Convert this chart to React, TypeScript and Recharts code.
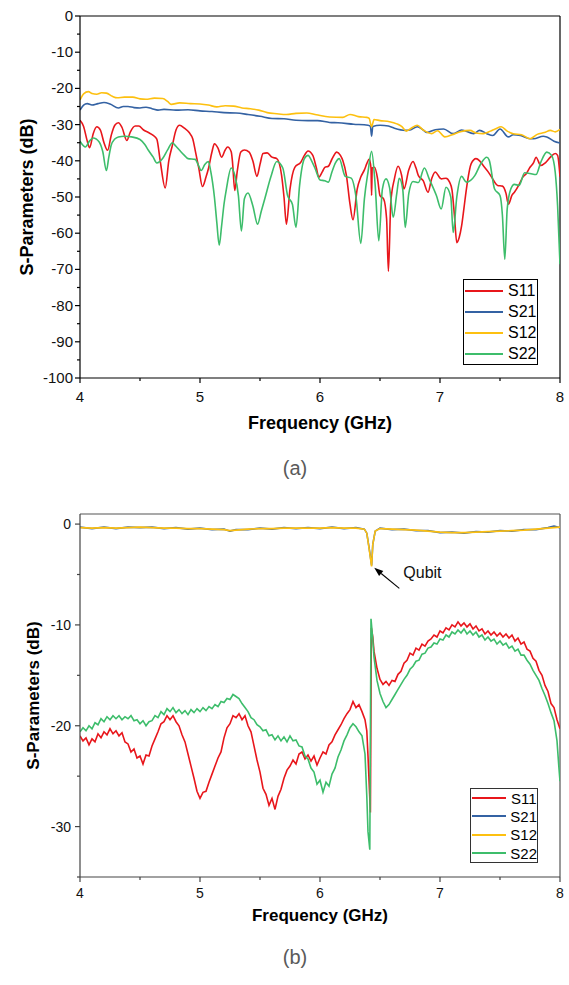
import React from 'react';
import { LineChart, Line, XAxis, YAxis, ReferenceLine, Legend } from 'recharts';

type Pt = [number, number];

const seriesNames = ['S11', 'S21', 'S12', 'S22'];
const seriesColors = ['#e8161b', '#3462a3', '#fdc010', '#3dbd6b'];

const xTicks = [4, 4.5, 5, 5.5, 6, 6.5, 7, 7.5, 8];
const yTicksA = [0, -5, -10, -15, -20, -25, -30, -35, -40, -45, -50, -55, -60, -65, -70, -75, -80, -85, -90, -95, -100];
const yTicksB = [0, -5, -10, -15, -20, -25, -30, -35];

// panel (a)
const s11A: Pt[] = [
  [4.0, -28.8], [4.03, -30.5], [4.06, -34.5], [4.08, -36.4], [4.11, -32.5], [4.14, -30.6], [4.17, -31.5], [4.2, -35],
  [4.23, -37.1], [4.26, -33], [4.29, -30.2], [4.32, -29.5], [4.35, -30.8], [4.39, -34.4], [4.42, -32], [4.46, -30.4],
  [4.49, -30.4], [4.53, -31.5], [4.57, -32.2], [4.61, -33], [4.64, -34], [4.67, -40.4], [4.71, -47.5], [4.74, -40],
  [4.77, -35.7], [4.8, -31.5], [4.83, -30.2], [4.87, -31], [4.91, -32.2], [4.94, -34], [4.96, -37.1], [4.99, -42],
  [5.02, -47.1], [5.05, -44.5], [5.07, -42.2], [5.1, -37.5], [5.12, -35.3], [5.15, -36.5], [5.18, -39], [5.21, -37],
  [5.23, -36.2], [5.26, -37.5], [5.27, -40], [5.29, -48.2], [5.31, -43], [5.34, -37.6], [5.37, -37], [5.41, -37.6],
  [5.44, -40], [5.475, -44.3], [5.5, -41], [5.525, -38], [5.56, -37.8], [5.6, -39], [5.64, -39.4], [5.68, -44],
  [5.7, -50], [5.72, -57.5], [5.75, -47.8], [5.79, -41.8], [5.84, -40.4], [5.87, -38.5], [5.9, -37.3], [5.94, -38.5],
  [5.97, -42], [5.99, -44.5], [6.02, -43], [6.04, -41.8], [6.07, -41.5], [6.1, -39.5], [6.14, -37.6], [6.17, -38.5],
  [6.19, -39.9], [6.22, -44], [6.25, -52], [6.275, -56.3], [6.31, -47.8], [6.34, -44.5], [6.37, -42.5], [6.39, -40.8],
  [6.41, -39.5], [6.425, -42], [6.43, -49.6], [6.435, -42], [6.455, -41.8], [6.48, -45], [6.5, -49.6], [6.53, -50.5],
  [6.555, -56], [6.57, -70.5], [6.59, -51.5], [6.62, -45], [6.65, -41.5], [6.68, -44], [6.7, -47.8], [6.74, -42.5],
  [6.775, -40.2], [6.8, -42], [6.82, -44.1], [6.86, -45.5], [6.9, -48.7], [6.93, -45], [6.96, -43.1], [7.01, -45],
  [7.05, -44.8], [7.08, -45.9], [7.1, -48], [7.12, -55], [7.14, -62.6], [7.16, -61.2], [7.18, -58], [7.2, -53],
  [7.22, -47.8], [7.26, -40.8], [7.3, -39.4], [7.33, -40], [7.36, -41.3], [7.4, -43], [7.43, -44.5], [7.48, -46.8],
  [7.52, -47], [7.55, -49], [7.57, -52], [7.6, -49.5], [7.62, -48.7], [7.66, -46.5], [7.69, -44.5], [7.72, -43.5],
  [7.75, -41.8], [7.78, -40.5], [7.8, -39], [7.84, -41.3], [7.88, -40.5], [7.92, -39], [7.96, -38], [7.98, -38.5],
  [8.0, -44.4],
];

const s21A: Pt[] = [
  [4.0, -26], [4.03, -24.6], [4.06, -24.2], [4.1, -24.6], [4.15, -24.2], [4.2, -23.9], [4.25, -24.3], [4.32, -25.4],
  [4.36, -25], [4.4, -25], [4.45, -25.3], [4.5, -25.4], [4.55, -25.2], [4.6, -25.6], [4.65, -26], [4.7, -25.8],
  [4.8, -26], [4.9, -25.9], [5.0, -26.2], [5.1, -26.4], [5.2, -26.7], [5.3, -26.8], [5.4, -27.2], [5.5, -27.7],
  [5.6, -28.3], [5.7, -28.4], [5.8, -28.8], [5.9, -28.9], [5.98, -28.9], [6.08, -29.4], [6.15, -29.5], [6.28, -29.9],
  [6.4, -30.2], [6.42, -30.5], [6.43, -33.2], [6.44, -30.5], [6.5, -30.2], [6.57, -30.4], [6.62, -31], [6.71, -31.6],
  [6.75, -31.5], [6.81, -30.6], [6.86, -31.5], [6.89, -32.2], [6.96, -31.4], [7.03, -31.2], [7.11, -32.5], [7.18, -31.5],
  [7.28, -32.5], [7.33, -31.6], [7.39, -32.5], [7.44, -33], [7.5, -31.2], [7.57, -33.4], [7.61, -32.8], [7.67, -33],
  [7.75, -33.9], [7.78, -33.9], [7.86, -33.2], [7.89, -33.4], [7.95, -34.6], [8.0, -35.1],
];

const s12A: Pt[] = [
  [4.0, -23.2], [4.03, -21.5], [4.07, -20.9], [4.1, -21.4], [4.14, -21.6], [4.18, -21.2], [4.22, -21.3], [4.27, -22.2],
  [4.31, -22.6], [4.37, -22.4], [4.44, -22.4], [4.5, -22.9], [4.55, -23], [4.62, -22.7], [4.69, -22.8], [4.73, -23.6],
  [4.76, -24.4], [4.83, -24], [4.92, -24.2], [5.0, -24.3], [5.07, -24.6], [5.14, -25.1], [5.21, -24.8], [5.28, -24.9],
  [5.35, -25.4], [5.42, -25.6], [5.49, -26], [5.56, -26.7], [5.64, -27], [5.72, -27.2], [5.8, -26.9], [5.89, -26.8],
  [5.97, -27.3], [6.08, -27.9], [6.19, -28], [6.25, -27.2], [6.32, -27.8], [6.39, -28], [6.41, -28.3], [6.43, -30.6],
  [6.45, -28.6], [6.5, -28.9], [6.58, -29.2], [6.64, -29.8], [6.68, -30.5], [6.72, -31.8], [6.76, -31], [6.81, -30.2],
  [6.86, -31.5], [6.93, -32.5], [6.98, -31.7], [7.04, -33.4], [7.11, -32.7], [7.17, -32], [7.25, -31.6], [7.3, -32.3],
  [7.36, -32.5], [7.42, -31.8], [7.46, -31.2], [7.51, -30.6], [7.56, -31.8], [7.61, -32.5], [7.68, -32.8], [7.75, -33.9],
  [7.81, -32.7], [7.87, -32.2], [7.92, -31.6], [7.96, -32], [8.0, -31.3],
];

const s22A: Pt[] = [
  [4.0, -34.6], [4.045, -36.2], [4.08, -34.5], [4.11, -33.7], [4.16, -34.8], [4.19, -37.5], [4.22, -42.7], [4.24, -39],
  [4.26, -35.7], [4.29, -34], [4.32, -33.4], [4.37, -33.2], [4.43, -33.4], [4.5, -34.1], [4.54, -35.5], [4.57, -37.1],
  [4.61, -39], [4.64, -40.6], [4.69, -39.3], [4.73, -37], [4.77, -35], [4.8, -36], [4.83, -37.1], [4.87, -38.5],
  [4.9, -39.4], [4.96, -39.6], [4.99, -41.5], [5.01, -42.7], [5.04, -41], [5.07, -40.2], [5.09, -43], [5.12, -50],
  [5.14, -57], [5.16, -63.3], [5.18, -58], [5.2, -52], [5.22, -47.8], [5.26, -42], [5.29, -44], [5.32, -49.6],
  [5.345, -59.4], [5.37, -50.5], [5.4, -48.9], [5.44, -52.4], [5.48, -57.5], [5.51, -54], [5.54, -50.5], [5.59, -44.5],
  [5.64, -40.2], [5.69, -42], [5.73, -49.6], [5.77, -52], [5.8, -58.4], [5.83, -46.8], [5.87, -39.4], [5.9, -38.5],
  [5.93, -40], [5.96, -42.2], [6.0, -45.3], [6.04, -45.5], [6.07, -45.9], [6.1, -43], [6.13, -40.5], [6.16, -39.4],
  [6.21, -44.3], [6.26, -44.8], [6.3, -50], [6.34, -62.8], [6.37, -50.5], [6.4, -43.1], [6.43, -37.4], [6.46, -46.8],
  [6.49, -62.1], [6.52, -47.8], [6.55, -45], [6.58, -47.5], [6.61, -55.6], [6.64, -49], [6.66, -44.8], [6.69, -48],
  [6.71, -58.4], [6.74, -49], [6.775, -45.7], [6.82, -46], [6.87, -42], [6.91, -45], [6.97, -49.6], [7.01, -53.3],
  [7.05, -47.3], [7.09, -50], [7.11, -59.8], [7.14, -50], [7.18, -44.3], [7.22, -45.9], [7.29, -44.1], [7.34, -40.8],
  [7.39, -39], [7.41, -39.8], [7.455, -47.8], [7.5, -49.6], [7.52, -55], [7.54, -67.2], [7.56, -53.3], [7.59, -47.8],
  [7.62, -46.5], [7.66, -46.8], [7.705, -43.3], [7.75, -43.5], [7.8, -43.8], [7.84, -40.4], [7.89, -37.6], [7.93, -38.5],
  [7.96, -43.1], [7.98, -52.4], [8.0, -68.6],
];

// panel (b)
const s11B: Pt[] = [
  [4.0, -21.0], [4.025, -21.5], [4.05, -21.2], [4.075, -21.9], [4.1, -21.3], [4.125, -21.6], [4.15, -20.8], [4.175, -21.2],
  [4.2, -20.6], [4.225, -20.9], [4.25, -20.3], [4.275, -20.8], [4.3, -20.5], [4.325, -21.0], [4.35, -20.7], [4.375, -21.6],
  [4.4, -21.8], [4.425, -22.6], [4.45, -22.3], [4.475, -23.2], [4.5, -23.0], [4.525, -23.8], [4.55, -22.9], [4.575, -23.0],
  [4.6, -22.0], [4.625, -21.3], [4.65, -20.6], [4.675, -19.8], [4.7, -19.6], [4.725, -19.0], [4.75, -19.4], [4.775, -19.0],
  [4.8, -19.6], [4.825, -20.0], [4.85, -20.9], [4.875, -21.6], [4.9, -22.8], [4.925, -24.0], [4.95, -25.2], [4.975, -26.5],
  [5.0, -27.2], [5.025, -26.6], [5.05, -26.5], [5.075, -25.6], [5.1, -24.8], [5.125, -24.0], [5.15, -23.2], [5.175, -22.6],
  [5.2, -21.2], [5.225, -20.2], [5.25, -19.8], [5.275, -19.0], [5.3, -19.2], [5.325, -18.8], [5.35, -19.4], [5.375, -19.0],
  [5.4, -20.0], [5.425, -20.6], [5.45, -22.0], [5.475, -23.4], [5.5, -24.6], [5.525, -26.2], [5.55, -26.8], [5.575, -27.9],
  [5.6, -27.2], [5.625, -28.3], [5.65, -27.0], [5.675, -26.3], [5.7, -25.2], [5.725, -24.4], [5.75, -24.0], [5.775, -23.4],
  [5.8, -23.8], [5.825, -22.8], [5.85, -22.6], [5.875, -23.3], [5.9, -22.9], [5.925, -23.5], [5.95, -23.0], [5.975, -23.9],
  [6.0, -23.2], [6.025, -22.6], [6.05, -22.8], [6.075, -21.9], [6.1, -21.6], [6.125, -20.9], [6.15, -20.4], [6.175, -19.9],
  [6.2, -19.3], [6.225, -18.8], [6.25, -18.4], [6.275, -17.6], [6.3, -18.2], [6.325, -17.9], [6.35, -18.6], [6.375, -19.4],
  [6.39, -20.5], [6.4, -23.0], [6.41, -25.8], [6.42, -28.6], [6.428, -10.3], [6.44, -11.2], [6.45, -12.6], [6.475, -14.3],
  [6.5, -15.4], [6.525, -15.9], [6.55, -15.6], [6.575, -16.0], [6.6, -15.5], [6.625, -15.6], [6.65, -14.9], [6.675, -14.6],
  [6.7, -13.8], [6.725, -13.5], [6.75, -12.8], [6.775, -13.0], [6.8, -12.3], [6.825, -12.5], [6.85, -11.9], [6.875, -12.1],
  [6.9, -11.6], [6.925, -11.4], [6.95, -11.0], [6.975, -11.2], [7.0, -10.6], [7.025, -10.8], [7.05, -10.3], [7.075, -10.5],
  [7.1, -10.0], [7.125, -10.2], [7.15, -9.7], [7.175, -10.1], [7.2, -9.8], [7.225, -10.2], [7.25, -9.9], [7.275, -10.4],
  [7.3, -10.1], [7.325, -10.6], [7.35, -10.4], [7.375, -10.9], [7.4, -10.6], [7.425, -11.0], [7.45, -10.7], [7.475, -11.1],
  [7.5, -10.8], [7.525, -11.2], [7.55, -10.9], [7.575, -11.3], [7.6, -11.0], [7.625, -11.6], [7.65, -11.3], [7.675, -11.9],
  [7.7, -11.7], [7.725, -12.4], [7.75, -12.6], [7.775, -13.3], [7.8, -13.6], [7.825, -14.5], [7.85, -15.0], [7.875, -16.0],
  [7.9, -16.6], [7.925, -17.8], [7.95, -18.2], [7.975, -19.4], [8.0, -20.3],
];

const s21B: Pt[] = [
  [4.0, -0.3], [4.1, -0.45], [4.2, -0.3], [4.3, -0.45], [4.4, -0.3], [4.5, -0.35], [4.6, -0.3], [4.7, -0.45],
  [4.8, -0.35], [4.9, -0.5], [5.0, -0.4], [5.1, -0.55], [5.2, -0.5], [5.25, -0.7], [5.3, -0.55], [5.4, -0.55],
  [5.5, -0.4], [5.6, -0.5], [5.7, -0.35], [5.8, -0.45], [5.9, -0.35], [6.0, -0.45], [6.1, -0.3], [6.2, -0.45],
  [6.3, -0.35], [6.37, -0.5], [6.39, -0.9], [6.41, -2.4], [6.43, -4.1], [6.44, -2.0], [6.46, -0.7], [6.5, -0.4],
  [6.6, -0.55], [6.7, -0.5], [6.8, -0.65], [6.9, -0.65], [7.0, -0.85], [7.1, -0.8], [7.2, -0.9], [7.3, -0.75],
  [7.4, -0.8], [7.5, -0.65], [7.6, -0.7], [7.7, -0.55], [7.8, -0.55], [7.9, -0.35], [7.95, -0.2], [8.0, -0.35],
];

const s12B: Pt[] = [
  [4.0, -0.35], [4.1, -0.4], [4.2, -0.35], [4.3, -0.4], [4.4, -0.35], [4.5, -0.3], [4.6, -0.35], [4.7, -0.4],
  [4.8, -0.4], [4.9, -0.45], [5.0, -0.45], [5.1, -0.5], [5.2, -0.55], [5.25, -0.65], [5.3, -0.6], [5.4, -0.5],
  [5.5, -0.45], [5.6, -0.45], [5.7, -0.4], [5.8, -0.4], [5.9, -0.4], [6.0, -0.4], [6.1, -0.35], [6.2, -0.4],
  [6.3, -0.4], [6.37, -0.5], [6.39, -0.9], [6.41, -2.5], [6.43, -4.2], [6.44, -2.0], [6.46, -0.7], [6.5, -0.45],
  [6.6, -0.5], [6.7, -0.55], [6.8, -0.6], [6.9, -0.7], [7.0, -0.8], [7.1, -0.85], [7.2, -0.85], [7.3, -0.8],
  [7.4, -0.75], [7.5, -0.7], [7.6, -0.65], [7.7, -0.6], [7.8, -0.5], [7.9, -0.4], [8.0, -0.3],
];

const s22B: Pt[] = [
  [4.0, -20.6], [4.025, -20.2], [4.05, -20.5], [4.075, -20.0], [4.1, -20.3], [4.125, -19.7], [4.15, -19.9], [4.175, -19.3],
  [4.2, -19.6], [4.225, -19.1], [4.25, -19.4], [4.275, -19.0], [4.3, -19.3], [4.325, -19.0], [4.35, -19.4], [4.375, -19.1],
  [4.4, -19.3], [4.425, -19.0], [4.45, -19.5], [4.475, -19.4], [4.5, -19.8], [4.525, -19.5], [4.55, -20.0], [4.575, -19.6],
  [4.6, -19.5], [4.625, -19.0], [4.65, -19.2], [4.675, -18.6], [4.7, -18.9], [4.725, -18.3], [4.75, -18.6], [4.775, -18.2],
  [4.8, -18.7], [4.825, -18.4], [4.85, -18.8], [4.875, -18.5], [4.9, -18.9], [4.925, -18.4], [4.95, -18.7], [4.975, -18.3],
  [5.0, -18.6], [5.025, -18.2], [5.05, -18.5], [5.075, -18.1], [5.1, -18.3], [5.125, -17.9], [5.15, -18.1], [5.175, -17.6],
  [5.2, -17.7], [5.225, -17.3], [5.25, -17.4], [5.275, -16.9], [5.3, -17.1], [5.325, -17.3], [5.35, -17.8], [5.375, -18.2],
  [5.4, -18.6], [5.425, -19.2], [5.45, -19.4], [5.475, -19.9], [5.5, -20.1], [5.525, -20.5], [5.55, -20.4], [5.575, -21.0],
  [5.6, -20.9], [5.625, -21.4], [5.65, -21.0], [5.675, -21.5], [5.7, -21.1], [5.725, -21.6], [5.75, -21.0], [5.775, -21.5],
  [5.8, -21.4], [5.825, -22.0], [5.85, -22.1], [5.875, -23.0], [5.9, -23.3], [5.925, -24.2], [5.95, -24.6], [5.975, -25.8],
  [6.0, -25.4], [6.025, -26.6], [6.05, -25.6], [6.075, -26.0], [6.1, -24.8], [6.125, -24.2], [6.15, -23.1], [6.175, -22.4],
  [6.2, -21.5], [6.225, -20.9], [6.25, -20.2], [6.275, -19.8], [6.3, -20.1], [6.325, -20.6], [6.35, -21.0], [6.375, -22.8],
  [6.39, -27.0], [6.4, -30.5], [6.415, -32.3], [6.425, -9.4], [6.44, -11.5], [6.45, -13.2], [6.475, -15.5], [6.5, -16.8],
  [6.525, -17.6], [6.55, -18.2], [6.575, -17.9], [6.6, -17.4], [6.625, -16.9], [6.65, -16.4], [6.675, -15.9], [6.7, -15.4],
  [6.725, -15.0], [6.75, -14.4], [6.775, -14.1], [6.8, -13.6], [6.825, -13.5], [6.85, -12.9], [6.875, -12.8], [6.9, -12.3],
  [6.925, -12.2], [6.95, -11.8], [6.975, -11.9], [7.0, -11.4], [7.025, -11.5], [7.05, -11.0], [7.075, -11.2], [7.1, -10.7],
  [7.125, -10.9], [7.15, -10.5], [7.175, -10.8], [7.2, -10.4], [7.225, -10.9], [7.25, -10.6], [7.275, -11.0], [7.3, -10.7],
  [7.325, -11.2], [7.35, -11.0], [7.375, -11.5], [7.4, -11.2], [7.425, -11.6], [7.45, -11.4], [7.475, -11.9], [7.5, -11.6],
  [7.525, -12.0], [7.55, -11.8], [7.575, -12.3], [7.6, -12.1], [7.625, -12.6], [7.65, -12.4], [7.675, -13.0], [7.7, -13.0],
  [7.725, -13.5], [7.75, -13.9], [7.775, -14.5], [7.8, -15.0], [7.825, -15.5], [7.85, -16.3], [7.875, -17.0], [7.9, -17.8],
  [7.925, -18.7], [7.95, -19.5], [7.975, -21.5], [7.99, -24.0], [8.0, -25.5],
];

// arrow tail -> head, in data units of panel (b)
const qubitArrow: Pt[] = [[6.661, -6.37], [6.452, -4.33]];

const FONT = '"Liberation Sans", Arial, Helvetica, sans-serif';

const toRows = (pts: Pt[]) => pts.map(([f, v]) => ({ f, v }));

const makeXTick = (color: string, size: number, gap: number) => (props: any) => {
  const { x, y, payload } = props;
  const v = payload.value;
  const major = Number.isInteger(v);
  return (
    <g>
      <line x1={x} x2={x} y1={y} y2={y + (major ? 5 : 3)} stroke={color} strokeWidth={1.2} />
      {major && (
        <text x={x} y={y + gap} textAnchor="middle" fontSize={size} fontFamily={FONT} fill="#111">
          {v}
        </text>
      )}
    </g>
  );
};

const makeYTick = (color: string, size: number, gap: number, dy: number) => (props: any) => {
  const { x, y, payload } = props;
  const v = payload.value;
  const major = v % 10 === 0;
  return (
    <g>
      <line x1={x - (major ? 5 : 3)} x2={x} y1={y} y2={y} stroke={color} strokeWidth={1.2} />
      {major && (
        <text x={x - gap} y={y + dy} textAnchor="end" fontSize={size} fontFamily={FONT} fill="#111">
          {v}
        </text>
      )}
    </g>
  );
};

const makeXTitle = (size: number, dy: number) => (props: any) => {
  const vb = props.viewBox;
  return (
    <text x={vb.x + vb.width / 2} y={vb.y + dy} textAnchor="middle" fontSize={size} fontWeight="bold" fontFamily={FONT} fill="#000">
      Frequency (GHz)
    </text>
  );
};

const makeYTitle = (size: number, cx: number) => (props: any) => {
  const vb = props.viewBox;
  const cy = vb.y + vb.height / 2;
  return (
    <text x={cx} y={cy} transform={`rotate(-90, ${cx}, ${cy})`} textAnchor="middle" dominantBaseline="central" fontSize={size} fontWeight="bold" fontFamily={FONT} fill="#000">
      S-Parameters (dB)
    </text>
  );
};

const makeLegend = (w: number, rowH: number, lineW: number, size: number, border: string) => () => (
  <div style={{ border: `1px solid ${border}`, background: '#fff', width: w, boxSizing: 'border-box', fontFamily: FONT }}>
    {seriesNames.map((name, i) => (
      <div key={name} style={{ display: 'flex', alignItems: 'center', height: rowH }}>
        <svg width={lineW + 2} height={4} style={{ display: 'block' }}>
          <line x1={1} x2={lineW + 1} y1={2} y2={2} stroke={seriesColors[i]} strokeWidth={2} />
        </svg>
        <span style={{ marginLeft: 4, fontSize: size, lineHeight: 1, color: '#000' }}>{name}</span>
      </div>
    ))}
  </div>
);

const ArrowShape = (p: any) => {
  const { x1, y1, x2, y2 } = p;
  const ang = Math.atan2(y2 - y1, x2 - x1);
  const len = 9;
  const half = 3.3;
  const bx = x2 - len * Math.cos(ang);
  const by = y2 - len * Math.sin(ang);
  const nx = -Math.sin(ang) * half;
  const ny = Math.cos(ang) * half;
  return (
    <g>
      <line x1={x1} y1={y1} x2={bx} y2={by} stroke="#000" strokeWidth={1.1} />
      <polygon points={`${x2},${y2} ${bx + nx},${by + ny} ${bx - nx},${by - ny}`} fill="#000" />
      <text x={x1 + 4} y={y1 - 10} fontSize={16} fontFamily={FONT} fill="#111">
        Qubit
      </text>
    </g>
  );
};

const panelA = [s11A, s21A, s12A, s22A];
const panelB = [s11B, s21B, s12B, s22B];

export default function App() {
  return (
    <div style={{ position: 'absolute', left: 0, top: 0, width: 569, height: 985, background: '#fff', fontFamily: FONT }}>
      <div style={{ position: 'absolute', left: 0, top: 0 }}>
        <LineChart width={569} height={440} margin={{ top: 16, right: 9, bottom: 0, left: 0 }}>
          <XAxis
            dataKey="f" type="number" domain={[4, 8]} ticks={xTicks} interval={0} allowDataOverflow
            height={62} tickSize={0} tickMargin={0} tickLine={false}
            axisLine={{ stroke: '#000', strokeWidth: 1.2 }}
            tick={makeXTick('#000', 15, 24)}
            label={makeXTitle(18, 51)}
          />
          <YAxis
            type="number" domain={[-100, 0]} ticks={yTicksA} interval={0} allowDataOverflow
            width={80} tickSize={0} tickMargin={0} tickLine={false}
            axisLine={{ stroke: '#000', strokeWidth: 1.2 }}
            tick={makeYTick('#000', 15, 7, 5)}
            label={makeYTitle(18, 27)}
          />
          <ReferenceLine y={0} stroke="#000" strokeWidth={1.2} />
          <ReferenceLine x={8} stroke="#000" strokeWidth={1.2} />
          {panelA.map((pts, i) => (
            <Line
              key={seriesNames[i]} data={toRows(pts)} dataKey="v" name={seriesNames[i]} type="monotone"
              stroke={seriesColors[i]} strokeWidth={1.6} dot={false} activeDot={false} isAnimationActive={false}
            />
          ))}
          <Legend
            layout="vertical" align="center" verticalAlign="middle"
            content={makeLegend(75, 21, 38, 16, '#000')}
            wrapperStyle={{ left: 463, top: 279, width: 75, height: 84 }}
          />
        </LineChart>
      </div>

      <div style={{ position: 'absolute', left: 245, top: 455, width: 100, textAlign: 'center', fontSize: 20, lineHeight: '26px', color: '#5a5a5a' }}>
        (a)
      </div>

      <div style={{ position: 'absolute', left: 0, top: 490 }}>
        <LineChart width={569} height={450} margin={{ top: 24, right: 9, bottom: 0, left: 0 }}>
          <XAxis
            dataKey="f" type="number" domain={[4, 8]} ticks={xTicks} interval={0} allowDataOverflow
            height={63} tickSize={0} tickMargin={0} tickLine={false}
            axisLine={{ stroke: '#444', strokeWidth: 1.2 }}
            tick={makeXTick('#444', 14, 21)}
            label={makeXTitle(17, 44)}
          />
          <YAxis
            type="number" domain={[-35, 1]} ticks={yTicksB} interval={0} allowDataOverflow
            width={80} tickSize={0} tickMargin={0} tickLine={false}
            axisLine={{ stroke: '#444', strokeWidth: 1.2 }}
            tick={makeYTick('#444', 14, 9, 5)}
            label={makeYTitle(17, 33)}
          />
          <ReferenceLine y={1} stroke="#555" strokeWidth={1.2} />
          <ReferenceLine x={8} stroke="#555" strokeWidth={1.2} />
          {panelB.map((pts, i) => (
            <Line
              key={seriesNames[i]} data={toRows(pts)} dataKey="v" name={seriesNames[i]} type="linear"
              stroke={seriesColors[i]} strokeWidth={1.6} dot={false} activeDot={false} isAnimationActive={false}
            />
          ))}
          <ReferenceLine
            segment={[{ x: qubitArrow[0][0], y: qubitArrow[0][1] }, { x: qubitArrow[1][0], y: qubitArrow[1][1] }]}
            shape={ArrowShape}
          />
          <Legend
            layout="vertical" align="center" verticalAlign="middle"
            content={makeLegend(68, 18.3, 34, 15, '#333')}
            wrapperStyle={{ left: 470, top: 298, width: 68, height: 76 }}
          />
        </LineChart>
      </div>

      <div style={{ position: 'absolute', left: 245, top: 944, width: 100, textAlign: 'center', fontSize: 20, lineHeight: '26px', color: '#5a5a5a' }}>
        (b)
      </div>
    </div>
  );
}
